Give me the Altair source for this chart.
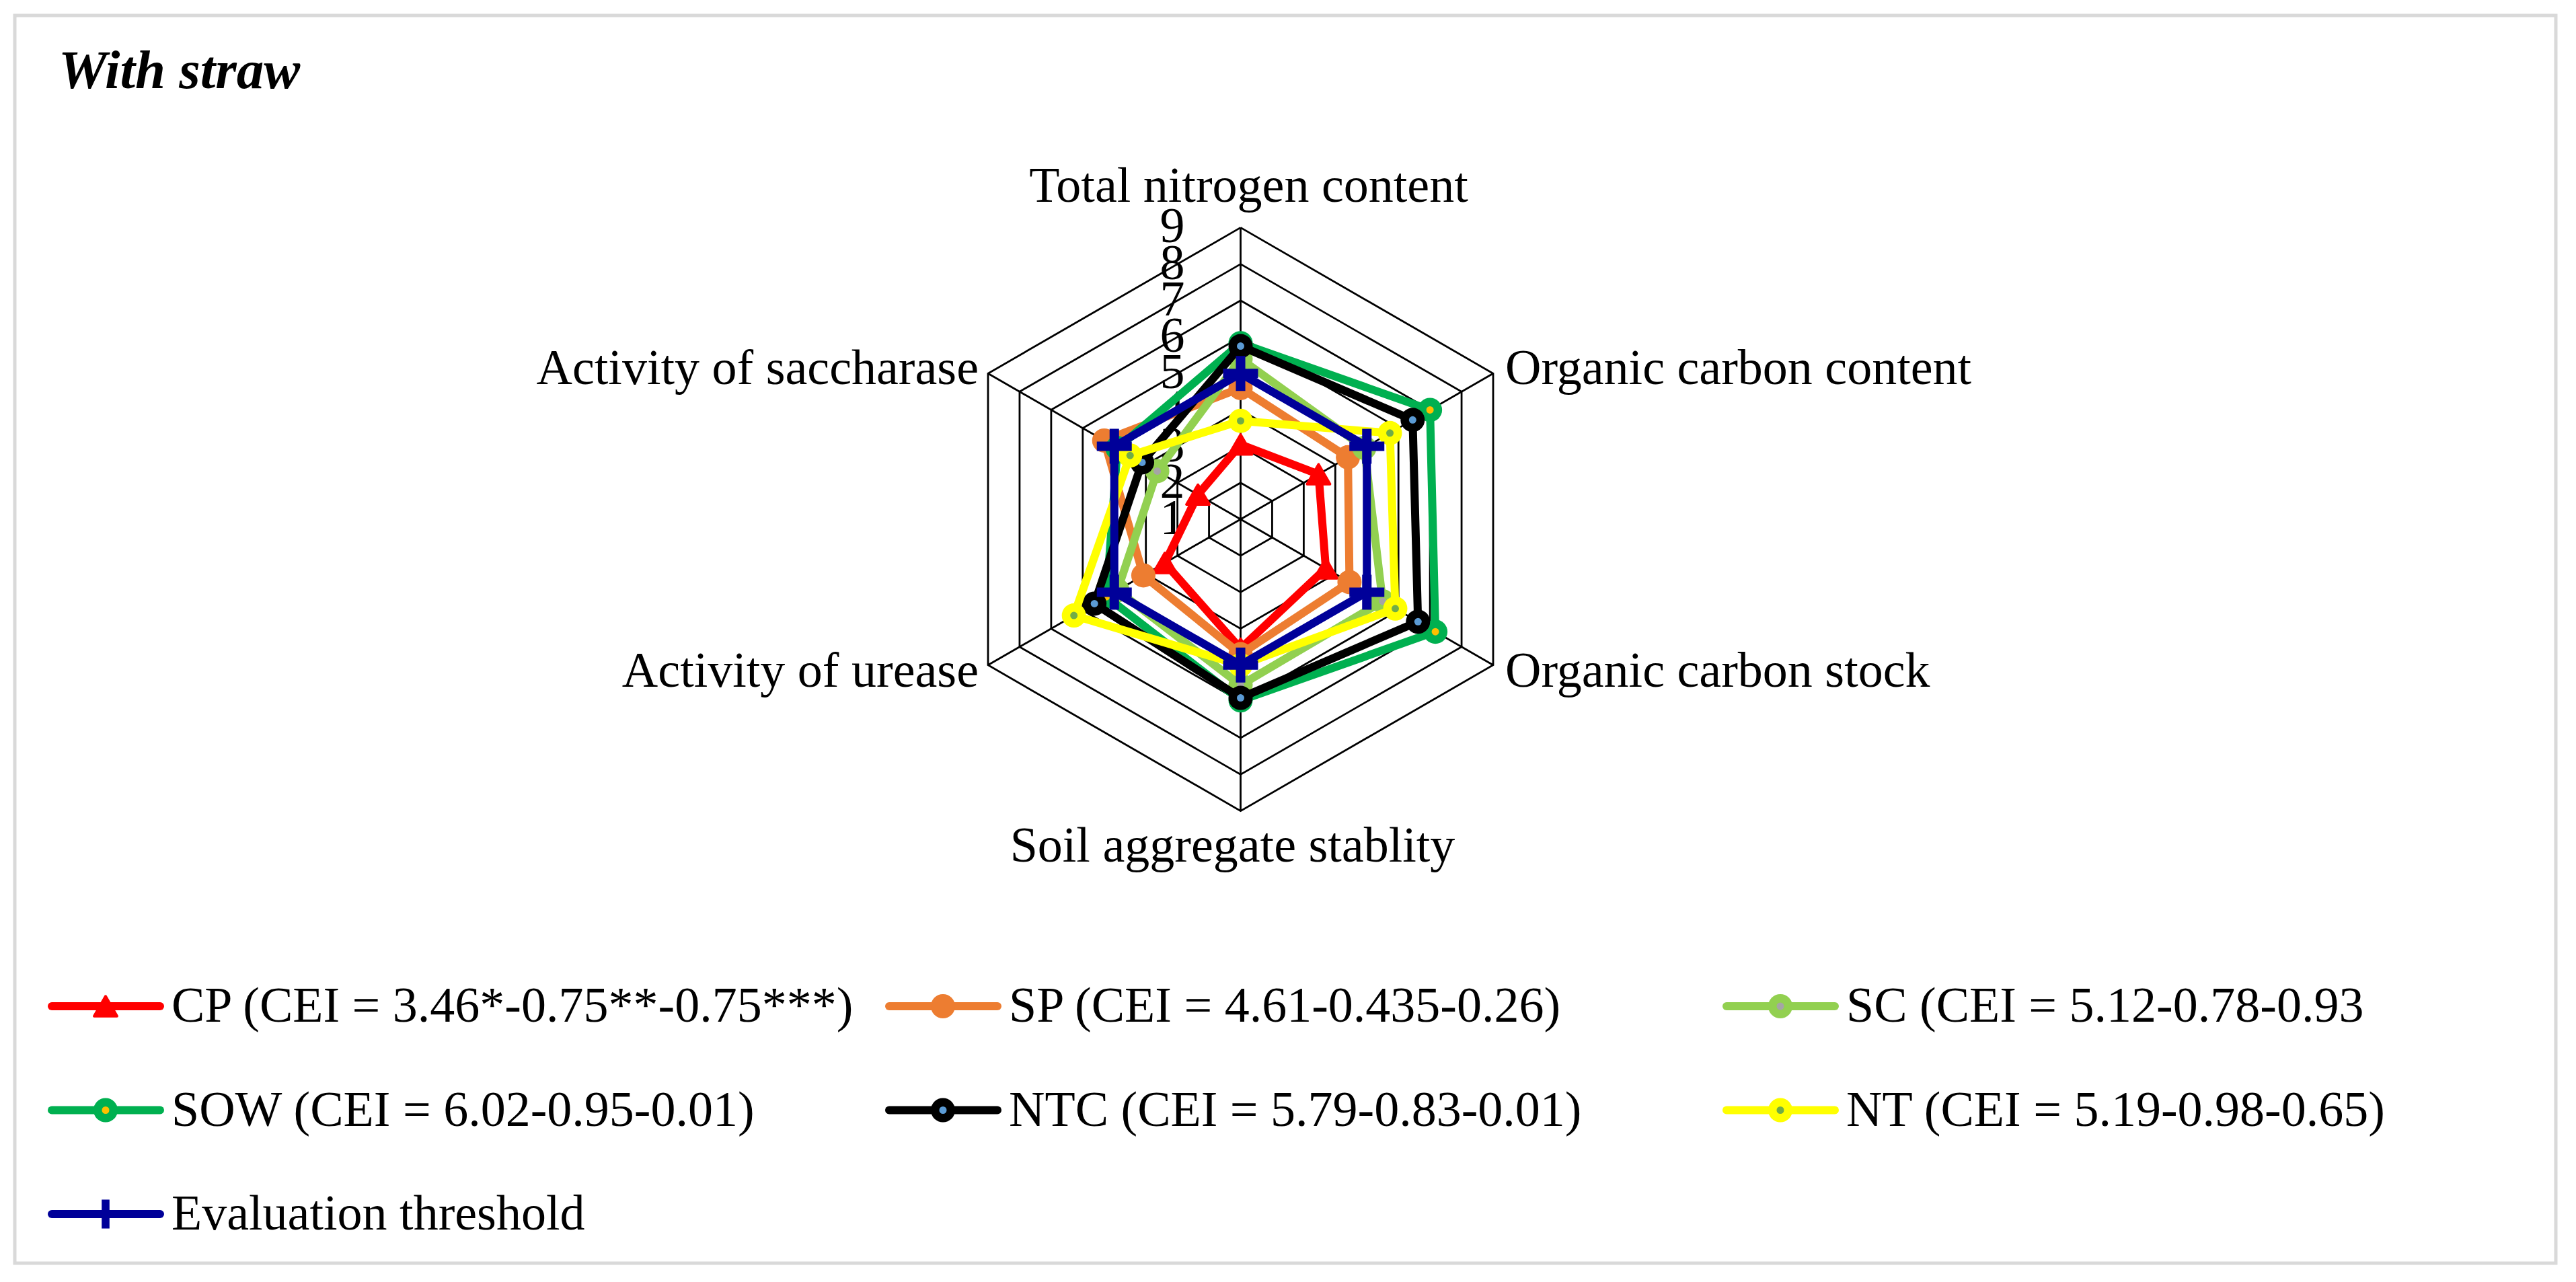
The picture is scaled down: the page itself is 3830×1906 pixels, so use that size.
import altair as alt
import pandas as pd

# ---------------- data ----------------
title_text = "With straw"
axis_labels = ["Total nitrogen content", "Organic carbon content", "Organic carbon stock",
               "Soil aggregate stablity", "Activity of urease", "Activity of saccharase"]
tick_values = [1, 2, 3, 4, 5, 6, 7, 8, 9]
series_names = ["CP", "SP", "SC", "SOW", "NTC", "NT", "Evaluation threshold"]
legend_labels = ["CP (CEI = 3.46*-0.75**-0.75***)", "SP (CEI = 4.61-0.435-0.26)",
                 "SC (CEI = 5.12-0.78-0.93", "SOW (CEI = 6.02-0.95-0.01)",
                 "NTC (CEI = 5.79-0.83-0.01)", "NT (CEI = 5.19-0.98-0.65)",
                 "Evaluation threshold"]
cp = [3.05, 3.47, 3.70, 4.55, 3.40, 2.35]
sp = [4.60, 4.40, 4.45, 4.70, 4.08, 5.32]
sc = [5.40, 4.92, 5.50, 5.55, 4.90, 3.64]
sow = [5.83, 7.00, 7.17, 5.97, 5.25, 4.90]
ntc = [5.75, 6.45, 6.62, 5.90, 5.63, 4.12]
nt = [3.70, 5.73, 5.90, 5.00, 6.28, 4.50]
threshold = [5.0, 5.0, 5.0, 5.0, 5.0, 5.0]
series_values = [cp, sp, sc, sow, ntc, nt, threshold]

# ---------------- styles ----------------
series_colors = ["#FF0000", "#ED7D31", "#92D050", "#00B050", "#000000", "#FFFF00", "#000099"]
inner_colors = [None, None, "#A5A5A5", "#FFC000", "#5B9BD5", "#70AD47", None]
CROSS = "M-1,-0.27H-0.27V-1H0.27V-0.27H1V0.27H0.27V1H-0.27V0.27H-1Z"
marker_shapes = ["triangle-up", "circle", "circle", "circle", "circle", "circle", CROSS]
marker_sizes = [1150, 1296, 1296, 1296, 1296, 1296, 2704]
FONT = "Liberation Serif"

# ---------------- layout ----------------
W, H = 3778, 1855           # view (= grey frame)
PX = 54.2                   # pixels per value unit
CXP, CYP = 1844.5, 772.0    # radar centre on the page
CXV, CYV = CXP - 22, CYP - 23
xs = alt.Scale(domain=[-CXV / PX, (W - CXV) / PX], nice=False, zero=False)
ys = alt.Scale(domain=[-(H - CYV) / PX, CYV / PX], nice=False, zero=False)
VMIN = tick_values[0]
RMAX = tick_values[-1] - tick_values[0]


def X(f="px"):
    return alt.X(f"{f}:Q", scale=xs, axis=None)


def Y(f="py"):
    return alt.Y(f"{f}:Q", scale=ys, axis=None)


# ---------------- tables ----------------
rows = []
for name, vals in zip(series_names, series_values):
    for k in range(7):
        rows.append({"series": name, "k": k, "value": vals[k % 6]})
df = pd.DataFrame(rows)

rings = pd.DataFrame([{"level": lv, "k": k} for lv in tick_values[1:] for k in range(7)])
spokes = pd.DataFrame({"k": list(range(6))})
ticks_df = pd.DataFrame({"v": tick_values})
labels_df = pd.DataFrame({"label": axis_labels, "k": list(range(6))})
legend_df = pd.DataFrame({"series": series_names, "label": legend_labels,
                          "i": list(range(len(series_names)))})

layers = []

# grid rings
layers.append(
    alt.Chart(rings).transform_calculate(
        px=f"(datum.level - {VMIN}) * sin(datum.k * PI / 3)",
        py=f"(datum.level - {VMIN}) * cos(datum.k * PI / 3)",
    ).mark_line(color="black", strokeWidth=2.8, strokeJoin="miter").encode(
        x=X(), y=Y(), detail="level:N", order="k:Q")
)
# spokes
layers.append(
    alt.Chart(spokes).transform_calculate(
        px="0", py="0",
        px2=f"{RMAX} * sin(datum.k * PI / 3)",
        py2=f"{RMAX} * cos(datum.k * PI / 3)",
    ).mark_rule(color="black", strokeWidth=2.8).encode(
        x=X(), y=Y(), x2="px2:Q", y2="py2:Q")
)
# tick labels
layers.append(
    alt.Chart(ticks_df).transform_calculate(px="0", py=f"datum.v - {VMIN}")
    .mark_text(align="right", baseline="middle", dx=-83, fontSize=74, font=FONT, color="black")
    .encode(x=X(), y=Y(), text="v:N")
)
# axis labels
label_style = [("center", 12, -38), ("left", 18, 16), ("left", 18, 32),
               ("center", -12, 75), ("right", -14, 32), ("right", -14, 16)]
for k, (al, dx, dy) in enumerate(label_style):
    layers.append(
        alt.Chart(labels_df).transform_filter(f"datum.k == {k}").transform_calculate(
            px=f"{RMAX} * sin(datum.k * PI / 3)",
            py=f"{RMAX} * cos(datum.k * PI / 3)",
        ).mark_text(align=al, baseline="alphabetic", dx=dx, dy=dy, fontSize=74,
                    font=FONT, color="black")
        .encode(x=X(), y=Y(), text="label:N")
    )

# series
for idx, name in enumerate(series_names):
    col = series_colors[idx]
    base = alt.Chart(df).transform_filter(alt.datum.series == name).transform_calculate(
        px=f"(datum.value - {VMIN}) * sin(datum.k * PI / 3)",
        py=f"(datum.value - {VMIN}) * cos(datum.k * PI / 3)",
    )
    layers.append(base.mark_line(color=col, strokeWidth=12, strokeJoin="round")
                  .encode(x=X(), y=Y(), order="k:Q"))
    pts = base.transform_filter("datum.k < 6")
    stroke_w = 4 if marker_shapes[idx] == "triangle-up" else 0
    layers.append(pts.mark_point(shape=marker_shapes[idx], size=marker_sizes[idx], filled=True,
                                 fill=col, stroke=col, strokeWidth=stroke_w,
                                 strokeJoin="round", opacity=1)
                  .encode(x=X(), y=Y()))
    if inner_colors[idx]:
        layers.append(pts.mark_point(shape="circle", size=121, filled=True,
                                     fill=inner_colors[idx], opacity=1, strokeWidth=0)
                      .encode(x=X(), y=Y()))

# legend
LX0, LDX, LY0, LDY = 71.0, 1245.0, 1496.0, 154.5
leg = alt.Chart(legend_df).transform_calculate(
    col="datum.i % 3", row="floor(datum.i / 3)"
).transform_calculate(
    lx1=f"({LX0 + 6} + datum.col * {LDX} - {CXP}) / {PX}",
    lx2=f"({LX0 + 167} + datum.col * {LDX} - {CXP}) / {PX}",
    lxm=f"({LX0 + 86} + datum.col * {LDX} - {CXP}) / {PX}",
    lxt=f"({LX0 + 184} + datum.col * {LDX} - {CXP}) / {PX}",
    ly=f"({CYP} - ({LY0} + datum.row * {LDY})) / {PX}",
)
layers.append(
    leg.mark_rule(strokeWidth=12, strokeCap="round").encode(
        x=X("lx1"), x2="lx2:Q", y=Y("ly"),
        color=alt.Color("series:N", scale=alt.Scale(domain=series_names, range=series_colors),
                        legend=None))
)
for idx, name in enumerate(series_names):
    col = series_colors[idx]
    lp = leg.transform_filter(alt.datum.series == name)
    stroke_w = 4 if marker_shapes[idx] == "triangle-up" else 0
    size = marker_sizes[idx] if marker_shapes[idx] != CROSS else 1850
    layers.append(lp.mark_point(shape=marker_shapes[idx], size=size, filled=True,
                                fill=col, stroke=col, strokeWidth=stroke_w,
                                strokeJoin="round", opacity=1)
                  .encode(x=X("lxm"), y=Y("ly")))
    if inner_colors[idx]:
        layers.append(lp.mark_point(shape="circle", size=121, filled=True,
                                    fill=inner_colors[idx], opacity=1, strokeWidth=0)
                      .encode(x=X("lxm"), y=Y("ly")))
layers.append(
    leg.mark_text(align="left", baseline="alphabetic", dy=23, fontSize=74, font=FONT,
                  color="black")
    .encode(x=X("lxt"), y=Y("ly"), text="label:N")
)

# panel title
layers.append(
    alt.Chart(pd.DataFrame({"t": [title_text]}))
    .mark_text(align="left", baseline="alphabetic", fontSize=81, font=FONT,
               fontWeight="bold", fontStyle="italic", color="black")
    .encode(x=alt.value(65), y=alt.value(108), text="t:N")
)

chart = alt.layer(*layers).properties(
    width=W, height=H,
    padding={"left": 14, "top": 15, "right": 10, "bottom": 10},
    background="white",
).configure_view(stroke="#d9d9d9", strokeWidth=5)

chart.save("out.html", embed_options={"renderer": "svg", "actions": False})
